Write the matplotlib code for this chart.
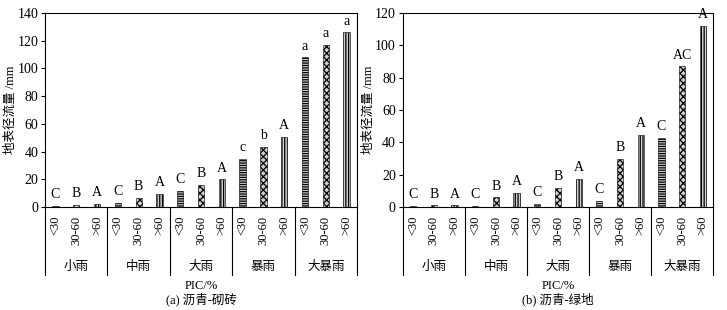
import matplotlib.pyplot as plt
import numpy as np

plt.rcParams['font.family'] = ['Liberation Serif', 'Noto Sans CJK SC']
plt.rcParams['hatch.linewidth'] = 0.9
plt.rcParams['axes.unicode_minus'] = False

groups = ['小雨', '中雨', '大雨', '暴雨', '大暴雨']
pic_labels = ['<30', '30-60', '>60']

# (a) 沥青-砌砖
vals_a = [[0.8, 1.5, 2.5],
          [3.0, 6.5, 9.5],
          [11.5, 16.0, 20.0],
          [35.0, 43.5, 50.5],
          [108.0, 117.0, 126.0]]
sig_a = [['C', 'B', 'A'],
         ['C', 'B', 'A'],
         ['C', 'B', 'A'],
         ['c', 'b', 'A'],
         ['a', 'a', 'a']]

# (b) 沥青-绿地
vals_b = [[0.5, 1.0, 1.0],
          [0.5, 6.0, 9.0],
          [2.0, 12.0, 17.5],
          [4.0, 30.0, 44.5],
          [43.0, 87.0, 112.0]]
sig_b = [['C', 'B', 'A'],
         ['C', 'B', 'A'],
         ['C', 'B', 'A'],
         ['C', 'B', 'A'],
         ['C', 'AC', 'A']]

hatches = ['-------', 'xxxxx', '||||||']

fig = plt.figure(figsize=(7.27, 3.10), dpi=100)
ax1 = fig.add_axes([0.062, 0.332, 0.429, 0.626])
ax2 = fig.add_axes([0.554, 0.332, 0.427, 0.626])


def draw(ax, vals, sigs, ymax, caption):
    xs, labels = [], []
    for g in range(len(groups)):
        for k in range(3):
            x = g + (k + 0.5) / 3
            v = vals[g][k]
            ax.bar(x, v, width=0.1, color='#cfcfcf', edgecolor='black',
                   linewidth=0.4, hatch=hatches[k])
            ax.text(x, v + ymax * 0.025, sigs[g][k], ha='center', va='bottom',
                    fontsize=10)
            xs.append(x)
            labels.append(pic_labels[k])
    ax.set_xlim(0, 5)
    ax.set_ylim(0, ymax)
    ax.set_yticks(np.arange(0, ymax + 1, 20))
    ax.set_xticks(xs)
    ax.set_xticklabels(labels, rotation=90, fontsize=9)
    ax.tick_params(axis='x', length=0, pad=6)
    ax.tick_params(axis='y', direction='out', length=3, pad=2, labelsize=10)
    ax.set_ylabel('地表径流量 /mm', fontsize=9)
    ax.yaxis.set_label_coords(-0.09, 0.5)
    for s in ax.spines.values():
        s.set_linewidth(0.8)
    # group boxes below the axis
    for g in range(len(groups) + 1):
        ax.plot([g, g], [0, -0.35], transform=ax.get_xaxis_transform(),
                color='black', lw=0.8, clip_on=False)
        if g < len(groups):
            ax.text(g + 0.5, -0.31, groups[g], transform=ax.get_xaxis_transform(),
                    ha='center', va='center', fontsize=9)
    ax.text(0.5, -0.405, 'PIC/%', transform=ax.transAxes, ha='center',
            va='center', fontsize=9)
    ax.text(0.5, -0.475, caption, transform=ax.transAxes, ha='center',
            va='center', fontsize=9)


draw(ax1, vals_a, sig_a, 140, '(a) 沥青-砌砖')
draw(ax2, vals_b, sig_b, 120, '(b) 沥青-绿地')

fig.savefig('out.png', dpi=100)
